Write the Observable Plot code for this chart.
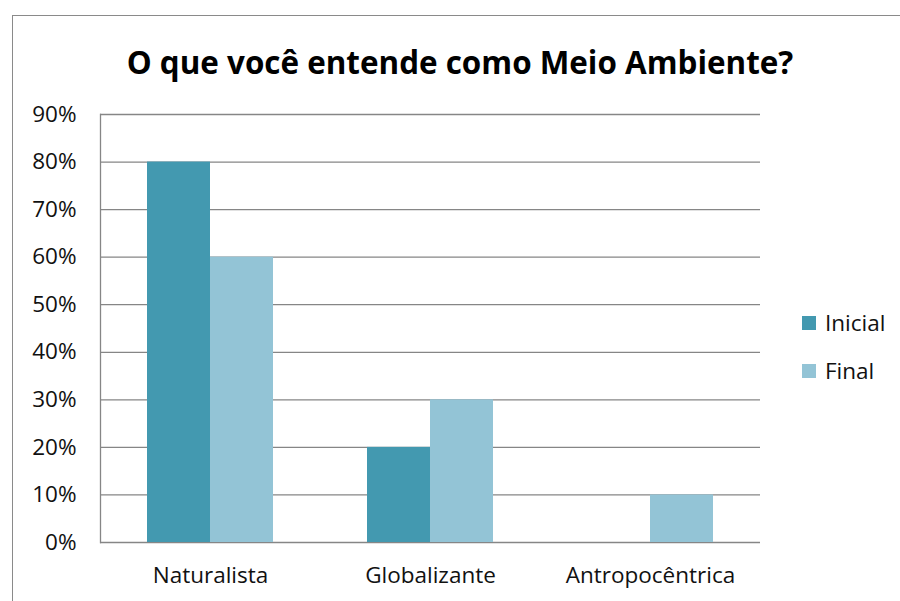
<!DOCTYPE html>
<html><head><meta charset="utf-8">
<script src="https://cdn.jsdelivr.net/npm/d3@7"></script>
<script src="https://cdn.jsdelivr.net/npm/@observablehq/plot@0.6"></script>
<style>
body{margin:0;background:#fff;font-family:"Open Sans",sans-serif;}
#wrap{position:relative;width:900px;height:601px;overflow:hidden;}
#frame{position:absolute;left:12px;top:15px;width:1000px;height:700px;border:1.5px solid #8a8a8a;}
#title{position:absolute;left:0;width:920px;top:40px;line-height:44px;text-align:center;font-weight:bold;font-size:31.4px;color:#000;}
#chart{position:absolute;left:0;top:0;}
#chart svg text{font-size:22.5px;fill:#111;}
.leg{position:absolute;left:802px;font-size:22.5px;line-height:30px;color:#111;display:flex;align-items:center;}
.leg span{display:inline-block;width:14px;height:14px;margin-right:9px;}
</style></head>
<body><div id="wrap"><div id="frame"></div><div id="title">O que você entende como Meio Ambiente?</div><div id="chart"></div>
<div class="leg" style="top:308px"><span style="background:#4399b0"></span>Inicial</div>
<div class="leg" style="top:356px"><span style="background:#93c4d6"></span>Final</div>
</div>
<script>
const categories = ["Naturalista", "Globalizante", "Antropocêntrica"];
const series = ["Inicial", "Final"];
const inicial = [0.80, 0.20, 0.00];
const final = [0.60, 0.30, 0.10];
const yTicks = [0,0.1,0.2,0.3,0.4,0.5,0.6,0.7,0.8,0.9];
const colors = ["#4399b0", "#93c4d6"];

const data = [];
categories.forEach((c,i)=>{
  data.push({cat:c, s:"Inicial", v:inicial[i]});
  data.push({cat:c, s:"Final", v:final[i]});
});

const plot = Plot.plot({
  width:900, height:601,
  marginLeft:99, marginRight:140, marginTop:114, marginBottom:59,
  style:{fontFamily:"Open Sans, sans-serif", fontSize:"22.5px", color:"#111", background:"transparent"},
  fx:{domain:categories, padding:0, label:null, axis:"bottom", tickSize:0, tickPadding:25},
  x:{domain:series, paddingInner:0, paddingOuter:0.746, axis:null},
  y:{domain:[0,0.9], ticks:yTicks, tickFormat:d=>Math.round(d*100)+"%", label:null, tickSize:0, tickPadding:24},
  color:{domain:series, range:colors},
  marks:[
    Plot.ruleY(yTicks, {stroke:"#868686", strokeWidth:1.3}),
    Plot.barY(data, {fx:"cat", x:"s", y:"v", fill:"s"}),
    Plot.frame({anchor:"left", facet:"super", stroke:"#868686", strokeWidth:1.3})
  ]
});
document.getElementById("chart").appendChild(plot);
</script></body></html>
